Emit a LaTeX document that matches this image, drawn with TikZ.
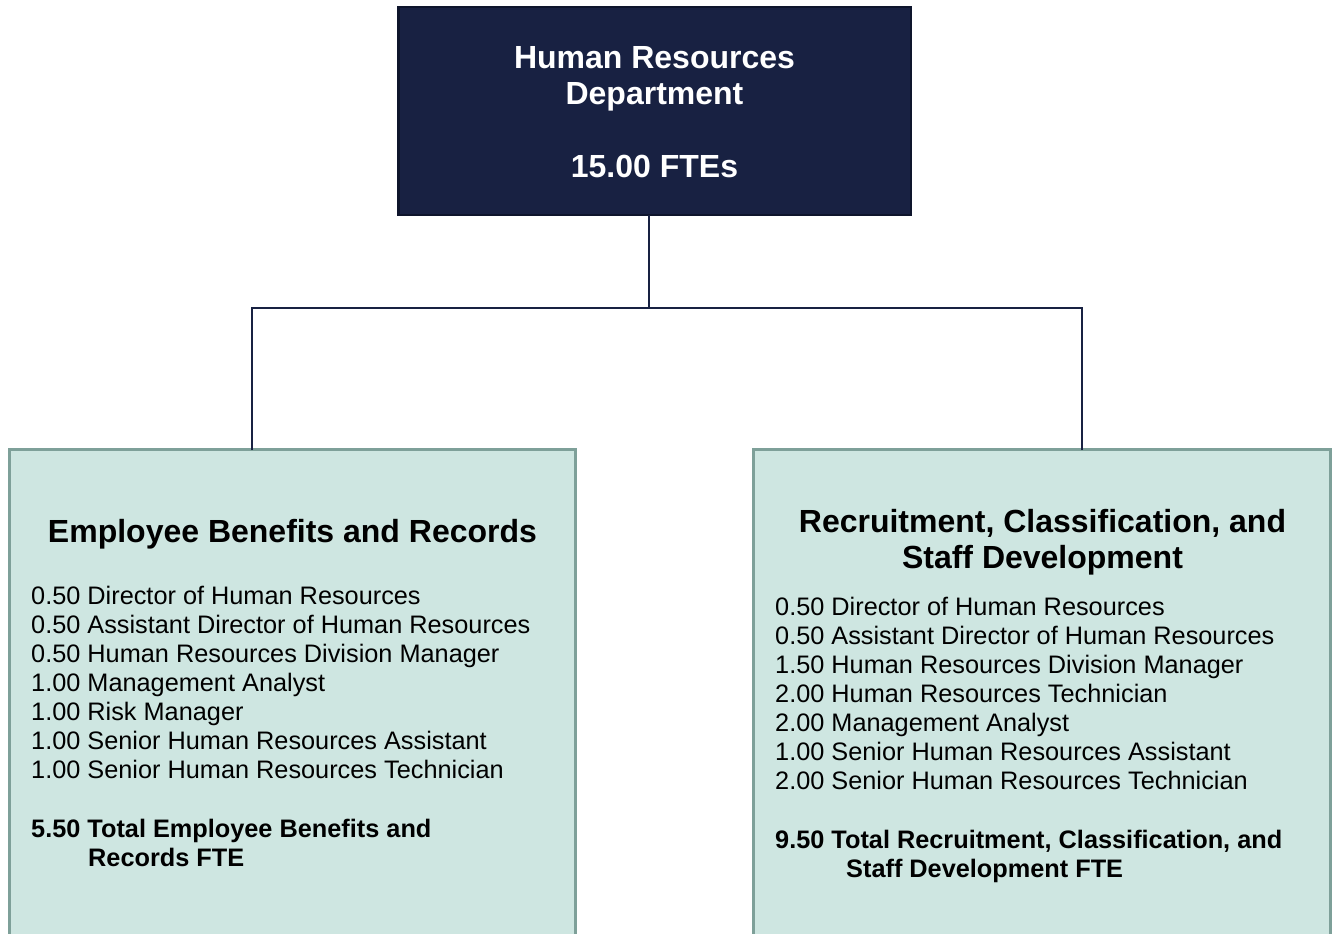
\documentclass[tikz,border=0pt]{standalone}
\usepackage{fontspec}
\setmainfont{Liberation Sans}
\usepackage{tikz}
\usetikzlibrary{positioning}
\definecolor{deptnavy}{RGB}{24,33,66}
\definecolor{deptedge}{RGB}{14,21,44}
\definecolor{unitteal}{RGB}{206,230,225}
\definecolor{unitedge}{RGB}{126,160,153}

\begin{document}
\begin{tikzpicture}[x=1pt, y=-1pt,
  dept/.style={draw=deptedge, fill=deptnavy, line width=2.5pt, inner sep=0, outer sep=0,
               minimum width=512.5, minimum height=207.5},
  unit/.style={draw=unitedge, fill=unitteal, line width=3pt, inner sep=0, outer sep=0,
               minimum height=495.5},
  depttext/.style={anchor=base, inner sep=0, text=white, font=\fontsize{32}{36}\selectfont\bfseries},
  heading/.style={anchor=base, inner sep=0, font=\fontsize{32}{36}\selectfont\bfseries},
  item/.style={anchor=base west, inner sep=0, font=\fontsize{25.3}{29}\selectfont},
  total/.style={item, font=\fontsize{25.3}{29}\selectfont\bfseries},
  link/.style={draw=deptnavy, line width=1.5pt}
]
\useasboundingbox (0,0) rectangle (1333,934);
\clip (0,0) rectangle (1333,934);

% department
\node[dept] (hr) at (654.5,111) {};
\node[depttext] (hr1) at (654.5,68)  {Human Resources};
\node[depttext] (hr2) at (654.5,104) {Department};
\node[depttext] (hr3) at (654.5,177) {15.00 FTEs};

% divisions
\node[unit, minimum width=566] (ebr) at (292.5,697.25) {};
\node[unit, minimum width=577] (rcs) at (1042,697.25) {};

% connectors
\coordinate (jm) at (649,308);
\coordinate (jl) at (252,308);
\coordinate (jr) at (1082,308);
\draw[link] (jm |- hr.south) -- (jm);
\draw[link] (jl |- ebr.north) -- (jl) -- (jr) -- (jr |- rcs.north);

% Employee Benefits and Records
\node[heading] (ebrhead) at (292.5,542) {Employee Benefits and Records};
\foreach \pos [count=\i from 0] in {0.50 Director of Human Resources,
    0.50 Assistant Director of Human Resources,
    0.50 Human Resources Division Manager,
    1.00 Management Analyst,
    1.00 Risk Manager,
    1.00 Senior Human Resources Assistant,
    1.00 Senior Human Resources Technician}
  \node[item] (ebr-\i) at (31,604+29*\i) {\pos};
\node[total] (ebrsum) at (31,837) {5.50 Total Employee Benefits and};
\node[total] (ebrsum2) at (88,866) {Records FTE};

% Recruitment, Classification, and Staff Development
\node[heading] (rcshead) at (1042.5,532) {Recruitment, Classification, and};
\node[heading] (rcshead2) at (1042.5,568) {Staff Development};
\foreach \pos [count=\i from 0] in {0.50 Director of Human Resources,
    0.50 Assistant Director of Human Resources,
    1.50 Human Resources Division Manager,
    2.00 Human Resources Technician,
    2.00 Management Analyst,
    1.00 Senior Human Resources Assistant,
    2.00 Senior Human Resources Technician}
  \node[item] (rcs-\i) at (775,615+29*\i) {\pos};
\node[total] (rcssum) at (775,848) {9.50 Total Recruitment, Classification, and};
\node[total] (rcssum2) at (846,877) {Staff Development FTE};
\end{tikzpicture}
\end{document}
